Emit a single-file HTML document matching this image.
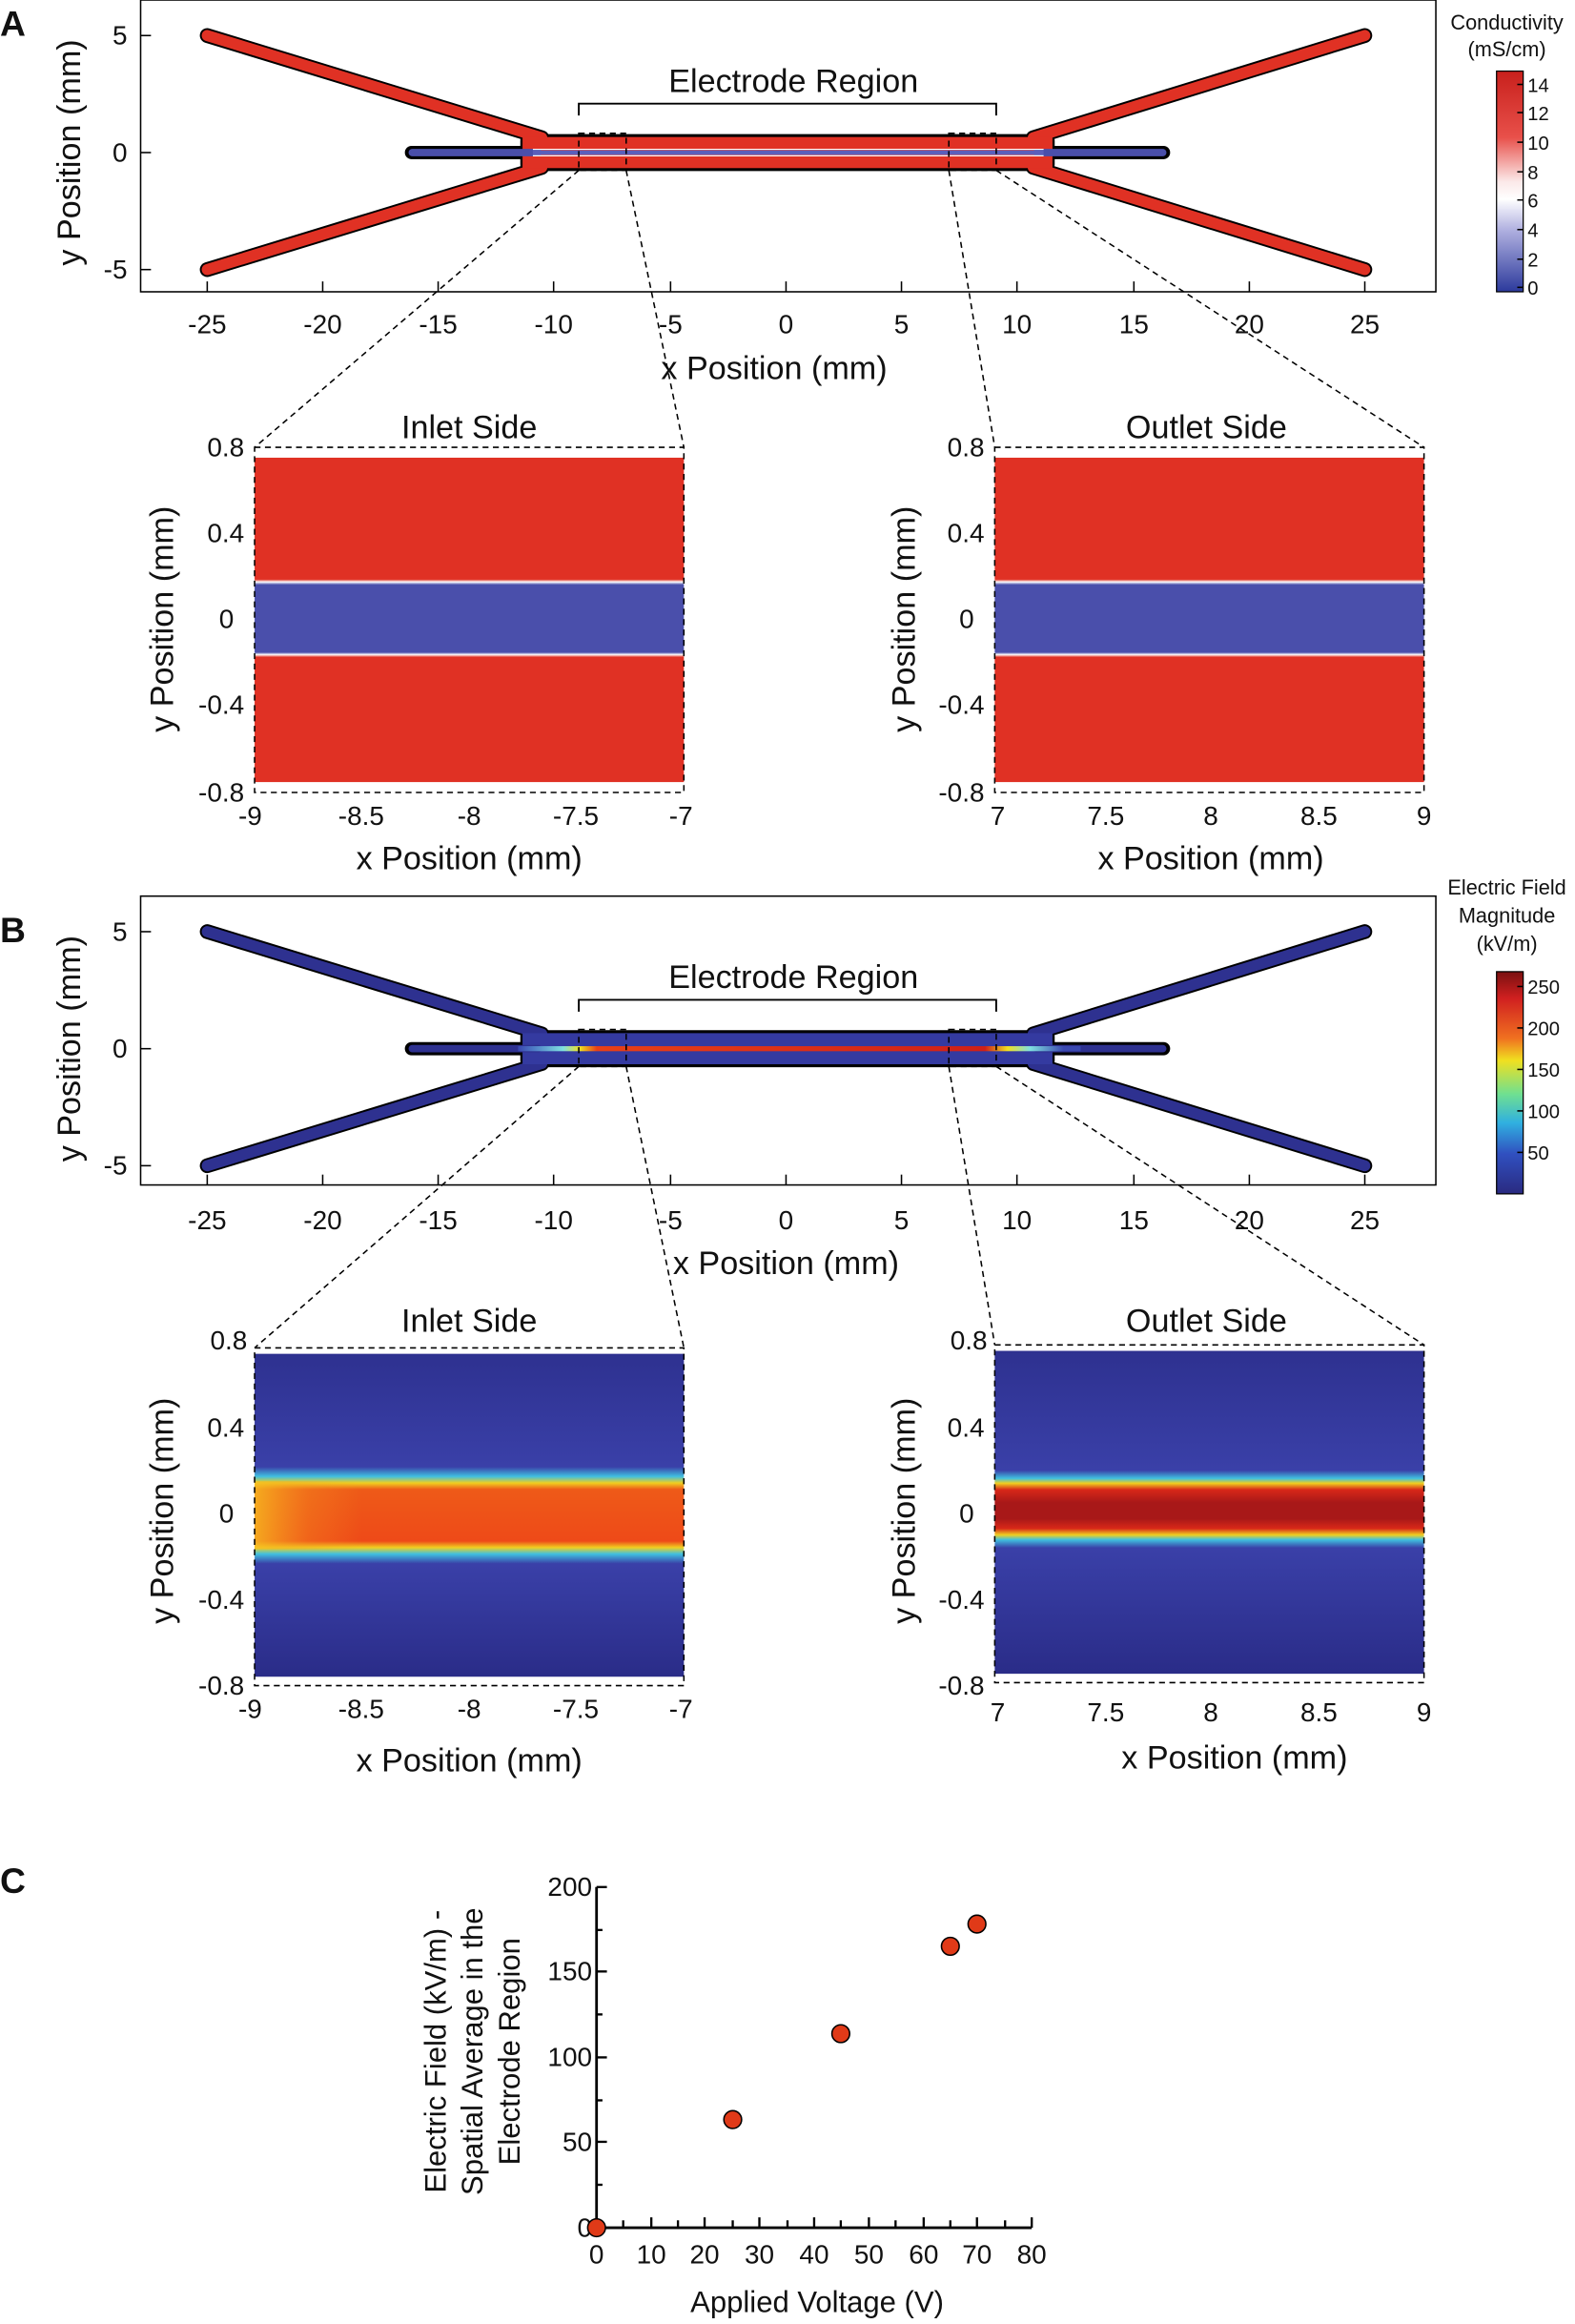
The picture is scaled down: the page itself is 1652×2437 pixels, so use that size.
<!DOCTYPE html>
<html><head><meta charset="utf-8"><style>
html,body{margin:0;padding:0;background:#fff}
svg{display:block}
text{font-family:"Liberation Sans",sans-serif;fill:#111}
</style></head><body>
<svg width="1652" height="2437" viewBox="0 0 1064 1569" preserveAspectRatio="none" xmlns="http://www.w3.org/2000/svg">
<defs>
<linearGradient id="cbA" x1="0" y1="0" x2="0" y2="1">
<stop offset="0" stop-color="#c8201c"/><stop offset="0.3" stop-color="#e8504a"/><stop offset="0.5" stop-color="#fbe8e8"/><stop offset="0.58" stop-color="#ffffff"/><stop offset="0.72" stop-color="#b0b0e0"/><stop offset="1" stop-color="#2c3a9c"/></linearGradient>
<linearGradient id="cbB" x1="0" y1="0" x2="0" y2="1">
<stop offset="0" stop-color="#7a1010"/><stop offset="0.12" stop-color="#d02020"/><stop offset="0.3" stop-color="#f07020"/><stop offset="0.4" stop-color="#f0e020"/><stop offset="0.55" stop-color="#70e090"/><stop offset="0.68" stop-color="#30b0e0"/><stop offset="0.82" stop-color="#3050c0"/><stop offset="1" stop-color="#2a2a80"/></linearGradient>
<linearGradient id="insA" x1="0" y1="0" x2="0" y2="1">
<stop offset="0" stop-color="#e03124"/><stop offset="0.375" stop-color="#e03124"/><stop offset="0.383" stop-color="#ffffff"/><stop offset="0.392" stop-color="#4a4fab"/><stop offset="0.6" stop-color="#4a4fab"/><stop offset="0.607" stop-color="#ffffff"/><stop offset="0.615" stop-color="#e03124"/><stop offset="1" stop-color="#e03124"/></linearGradient>
<linearGradient id="insBi" x1="0" y1="0" x2="0" y2="1">
<stop offset="0" stop-color="#2e3190"/><stop offset="0.35" stop-color="#3a40a8"/><stop offset="0.38" stop-color="#40c0e0"/><stop offset="0.4" stop-color="#f0d020"/><stop offset="0.42" stop-color="#ee5a18"/><stop offset="0.58" stop-color="#ee4a18"/><stop offset="0.6" stop-color="#f0d020"/><stop offset="0.62" stop-color="#40c0e0"/><stop offset="0.65" stop-color="#3a40a8"/><stop offset="1" stop-color="#2a2c88"/></linearGradient>
<linearGradient id="insBiX" x1="0" y1="0" x2="1" y2="0">
<stop offset="0" stop-color="#f7c020" stop-opacity="0.8"/><stop offset="0.25" stop-color="#f7a020" stop-opacity="0.3"/><stop offset="0.5" stop-color="#f7a020" stop-opacity="0"/></linearGradient>
<linearGradient id="insBo" x1="0" y1="0" x2="0" y2="1">
<stop offset="0" stop-color="#2e3190"/><stop offset="0.37" stop-color="#3a40a8"/><stop offset="0.395" stop-color="#40c0e0"/><stop offset="0.41" stop-color="#f0d020"/><stop offset="0.43" stop-color="#d82818"/><stop offset="0.47" stop-color="#a81818"/><stop offset="0.52" stop-color="#a81818"/><stop offset="0.55" stop-color="#d82818"/><stop offset="0.57" stop-color="#f0d020"/><stop offset="0.585" stop-color="#40c0e0"/><stop offset="0.61" stop-color="#3a40a8"/><stop offset="1" stop-color="#2a2c88"/></linearGradient>
<linearGradient id="strB" x1="0" y1="0" x2="1" y2="0">
<stop offset="0" stop-color="#3a48b0"/><stop offset="0.03" stop-color="#5080c8"/><stop offset="0.08" stop-color="#80e0e0"/><stop offset="0.11" stop-color="#f0e020"/><stop offset="0.14" stop-color="#e84018"/><stop offset="0.83" stop-color="#d02018"/><stop offset="0.87" stop-color="#f0e020"/><stop offset="0.91" stop-color="#80e0e0"/><stop offset="0.97" stop-color="#3a48b0"/><stop offset="1" stop-color="#3a48b0"/></linearGradient>
</defs>

<!-- ================= PANEL A ================= -->
<text x="0" y="24" font-size="24" font-weight="bold">A</text>
<g id="topA">
<rect x="95" y="0" width="875" height="197" fill="none" stroke="#000" stroke-width="1"/>
<g stroke="#000" fill="none">
<polyline points="140,24 366,93" stroke-width="10" stroke-linecap="round"/>
<polyline points="140,182 366,113" stroke-width="10" stroke-linecap="round"/>
<polyline points="922,24 698,93" stroke-width="10" stroke-linecap="round"/>
<polyline points="922,182 698,113" stroke-width="10" stroke-linecap="round"/>
<rect x="352" y="91" width="360" height="24" rx="4" fill="#000"/>
<rect x="274" y="99" width="516" height="8" rx="4" fill="#000"/>
</g>
<g stroke="#e03124" fill="none">
<polyline points="140,24 366,93" stroke-width="7.5" stroke-linecap="round"/>
<polyline points="140,182 366,113" stroke-width="7.5" stroke-linecap="round"/>
<polyline points="922,24 698,93" stroke-width="7.5" stroke-linecap="round"/>
<polyline points="922,182 698,113" stroke-width="7.5" stroke-linecap="round"/>
</g>
<rect x="353" y="92.5" width="358" height="21" fill="#e03124"/>
<rect x="276" y="100.5" width="90" height="5" rx="2.5" fill="#4a4fab"/>
<rect x="698" y="100.5" width="90" height="5" rx="2.5" fill="#4a4fab"/>
<rect x="360" y="101.5" width="345" height="3" fill="#5a5fbb"/>
<line x1="360" y1="100.8" x2="705" y2="100.8" stroke="#fff" stroke-width="0.8"/>
<line x1="360" y1="105.2" x2="705" y2="105.2" stroke="#fff" stroke-width="0.8"/>
</g>
<g stroke="#000" stroke-width="1">
<line x1="140" y1="197" x2="140" y2="190"/><line x1="218" y1="197" x2="218" y2="190"/><line x1="296" y1="197" x2="296" y2="190"/><line x1="374" y1="197" x2="374" y2="190"/><line x1="453" y1="197" x2="453" y2="190"/><line x1="531" y1="197" x2="531" y2="190"/><line x1="609" y1="197" x2="609" y2="190"/><line x1="687" y1="197" x2="687" y2="190"/><line x1="766" y1="197" x2="766" y2="190"/><line x1="844" y1="197" x2="844" y2="190"/><line x1="922" y1="197" x2="922" y2="190"/>
<line x1="95" y1="24" x2="102" y2="24"/><line x1="95" y1="103" x2="102" y2="103"/><line x1="95" y1="182" x2="102" y2="182"/>
</g>
<g font-size="18" text-anchor="middle">
<text x="140" y="225">-25</text><text x="218" y="225">-20</text><text x="296" y="225">-15</text><text x="374" y="225">-10</text><text x="453" y="225">-5</text><text x="531" y="225">0</text><text x="609" y="225">5</text><text x="687" y="225">10</text><text x="766" y="225">15</text><text x="844" y="225">20</text><text x="922" y="225">25</text>
</g>
<g font-size="18" text-anchor="end"><text x="86" y="30">5</text><text x="86" y="109">0</text><text x="86" y="188">-5</text></g>
<text x="523" y="256" font-size="22" text-anchor="middle">x Position (mm)</text>
<text transform="translate(54,103) rotate(-90)" font-size="22" text-anchor="middle">y Position (mm)</text>
<polyline points="391,78 391,70 673,70 673,78" fill="none" stroke="#000" stroke-width="1.2"/>
<text x="536" y="62" font-size="22" text-anchor="middle">Electrode Region</text>
<g fill="none" stroke="#000" stroke-width="1" stroke-dasharray="4,3">
<rect x="391" y="90" width="32" height="25"/><rect x="641" y="90" width="32" height="25"/>
<line x1="391" y1="115" x2="172" y2="302"/><line x1="423" y1="115" x2="462" y2="302"/>
<line x1="641" y1="115" x2="672" y2="302"/><line x1="673" y1="115" x2="962" y2="302"/>
</g>
<text x="1018" y="20" font-size="14" text-anchor="middle">Conductivity</text>
<text x="1018" y="38" font-size="14" text-anchor="middle">(mS/cm)</text>
<rect x="1011" y="48" width="18" height="149" fill="url(#cbA)" stroke="#000" stroke-width="0.8"/>
<g stroke="#000"><line x1="1025" y1="57" x2="1029" y2="57"/><line x1="1025" y1="76" x2="1029" y2="76"/><line x1="1025" y1="96" x2="1029" y2="96"/><line x1="1025" y1="116" x2="1029" y2="116"/><line x1="1025" y1="135" x2="1029" y2="135"/><line x1="1025" y1="155" x2="1029" y2="155"/><line x1="1025" y1="175" x2="1029" y2="175"/><line x1="1025" y1="194" x2="1029" y2="194"/></g>
<g font-size="13"><text x="1032" y="62">14</text><text x="1032" y="81">12</text><text x="1032" y="101">10</text><text x="1032" y="121">8</text><text x="1032" y="140">6</text><text x="1032" y="160">4</text><text x="1032" y="180">2</text><text x="1032" y="199">0</text></g>

<rect x="172" y="309" width="290" height="219" fill="url(#insA)"/>
<rect x="172" y="302" width="290" height="233" fill="none" stroke="#000" stroke-dasharray="4,3"/>
<rect x="672" y="309" width="290" height="219" fill="url(#insA)"/>
<rect x="672" y="302" width="290" height="233" fill="none" stroke="#000" stroke-dasharray="4,3"/>
<g font-size="22" text-anchor="middle"><text x="317" y="296">Inlet Side</text><text x="815" y="296">Outlet Side</text>
<text x="317" y="587">x Position (mm)</text><text x="818" y="587">x Position (mm)</text>
<text transform="translate(117,418) rotate(-90)">y Position (mm)</text>
<text transform="translate(618,418) rotate(-90)">y Position (mm)</text></g>
<g font-size="18" text-anchor="end">
<text x="165" y="308">0.8</text><text x="165" y="366">0.4</text><text x="158" y="424">0</text><text x="165" y="482">-0.4</text><text x="165" y="541">-0.8</text>
<text x="665" y="308">0.8</text><text x="665" y="366">0.4</text><text x="658" y="424">0</text><text x="665" y="482">-0.4</text><text x="665" y="541">-0.8</text></g>
<g font-size="18" text-anchor="middle">
<text x="169" y="557">-9</text><text x="244" y="557">-8.5</text><text x="317" y="557">-8</text><text x="389" y="557">-7.5</text><text x="460" y="557">-7</text>
<text x="674" y="557">7</text><text x="747" y="557">7.5</text><text x="818" y="557">8</text><text x="891" y="557">8.5</text><text x="962" y="557">9</text></g>

<!-- ================= PANEL B ================= -->
<text x="0" y="636" font-size="24" font-weight="bold">B</text>
<g transform="translate(0,605)">
<rect x="95" y="0" width="875" height="195" fill="none" stroke="#000" stroke-width="1"/>
<g stroke="#000" fill="none">
<polyline points="140,24 366,93" stroke-width="10" stroke-linecap="round"/>
<polyline points="140,182 366,113" stroke-width="10" stroke-linecap="round"/>
<polyline points="922,24 698,93" stroke-width="10" stroke-linecap="round"/>
<polyline points="922,182 698,113" stroke-width="10" stroke-linecap="round"/>
<rect x="352" y="91" width="360" height="24" rx="4" fill="#000"/>
<rect x="274" y="99" width="516" height="8" rx="4" fill="#000"/>
</g>
<g stroke="#2e3190" fill="none">
<polyline points="140,24 366,93" stroke-width="7.5" stroke-linecap="round"/>
<polyline points="140,182 366,113" stroke-width="7.5" stroke-linecap="round"/>
<polyline points="922,24 698,93" stroke-width="7.5" stroke-linecap="round"/>
<polyline points="922,182 698,113" stroke-width="7.5" stroke-linecap="round"/>
</g>
<rect x="353" y="92.5" width="358" height="21" fill="#343aa0"/>
<rect x="276" y="100.5" width="90" height="5" rx="2.5" fill="#2e3190"/>
<rect x="698" y="100.5" width="90" height="5" rx="2.5" fill="#2e3190"/>
<rect x="350" y="101.3" width="380" height="3.4" fill="url(#strB)"/>
<g stroke="#000" stroke-width="1">
<line x1="140" y1="195" x2="140" y2="188"/><line x1="218" y1="195" x2="218" y2="188"/><line x1="296" y1="195" x2="296" y2="188"/><line x1="374" y1="195" x2="374" y2="188"/><line x1="453" y1="195" x2="453" y2="188"/><line x1="531" y1="195" x2="531" y2="188"/><line x1="609" y1="195" x2="609" y2="188"/><line x1="687" y1="195" x2="687" y2="188"/><line x1="766" y1="195" x2="766" y2="188"/><line x1="844" y1="195" x2="844" y2="188"/><line x1="922" y1="195" x2="922" y2="188"/>
<line x1="95" y1="24" x2="102" y2="24"/><line x1="95" y1="103" x2="102" y2="103"/><line x1="95" y1="182" x2="102" y2="182"/>
</g>
<g font-size="18" text-anchor="middle">
<text x="140" y="225">-25</text><text x="218" y="225">-20</text><text x="296" y="225">-15</text><text x="374" y="225">-10</text><text x="453" y="225">-5</text><text x="531" y="225">0</text><text x="609" y="225">5</text><text x="687" y="225">10</text><text x="766" y="225">15</text><text x="844" y="225">20</text><text x="922" y="225">25</text>
</g>
<g font-size="18" text-anchor="end"><text x="86" y="30">5</text><text x="86" y="109">0</text><text x="86" y="188">-5</text></g>
<text x="531" y="255" font-size="22" text-anchor="middle">x Position (mm)</text>
<text transform="translate(54,103) rotate(-90)" font-size="22" text-anchor="middle">y Position (mm)</text>
<polyline points="391,78 391,70 673,70 673,78" fill="none" stroke="#000" stroke-width="1.2"/>
<text x="536" y="62" font-size="22" text-anchor="middle">Electrode Region</text>
<g fill="none" stroke="#000" stroke-width="1" stroke-dasharray="4,3">
<rect x="391" y="90" width="32" height="25"/><rect x="641" y="90" width="32" height="25"/>
<line x1="391" y1="115" x2="172" y2="305"/><line x1="423" y1="115" x2="462" y2="305"/>
<line x1="641" y1="115" x2="672" y2="303"/><line x1="673" y1="115" x2="962" y2="303"/>
</g>
</g>
<text x="1018" y="604" font-size="14" text-anchor="middle">Electric Field</text>
<text x="1018" y="623" font-size="14" text-anchor="middle">Magnitude</text>
<text x="1018" y="642" font-size="14" text-anchor="middle">(kV/m)</text>
<rect x="1011" y="656" width="18" height="150" fill="url(#cbB)" stroke="#000" stroke-width="0.8"/>
<g stroke="#000"><line x1="1025" y1="666" x2="1029" y2="666"/><line x1="1025" y1="694" x2="1029" y2="694"/><line x1="1025" y1="722" x2="1029" y2="722"/><line x1="1025" y1="750" x2="1029" y2="750"/><line x1="1025" y1="778" x2="1029" y2="778"/></g>
<g font-size="13"><text x="1032" y="671">250</text><text x="1032" y="699">200</text><text x="1032" y="727">150</text><text x="1032" y="755">100</text><text x="1032" y="783">50</text></g>

<rect x="172" y="914" width="290" height="218" fill="url(#insBi)"/>
<rect x="172" y="1000" width="145" height="46" fill="url(#insBiX)"/>
<rect x="172" y="910" width="290" height="228" fill="none" stroke="#000" stroke-dasharray="4,3"/>
<rect x="672" y="912" width="290" height="218" fill="url(#insBo)"/>
<rect x="672" y="908" width="290" height="228" fill="none" stroke="#000" stroke-dasharray="4,3"/>
<g font-size="22" text-anchor="middle"><text x="317" y="899">Inlet Side</text><text x="815" y="899">Outlet Side</text>
<text x="317" y="1196">x Position (mm)</text><text x="834" y="1194">x Position (mm)</text>
<text transform="translate(117,1020) rotate(-90)">y Position (mm)</text>
<text transform="translate(618,1020) rotate(-90)">y Position (mm)</text></g>
<g font-size="18" text-anchor="end">
<text x="167" y="911">0.8</text><text x="165" y="970">0.4</text><text x="158" y="1028">0</text><text x="165" y="1086">-0.4</text><text x="165" y="1144">-0.8</text>
<text x="667" y="911">0.8</text><text x="665" y="970">0.4</text><text x="658" y="1028">0</text><text x="665" y="1086">-0.4</text><text x="665" y="1144">-0.8</text></g>
<g font-size="18" text-anchor="middle">
<text x="169" y="1160">-9</text><text x="244" y="1160">-8.5</text><text x="317" y="1160">-8</text><text x="389" y="1160">-7.5</text><text x="460" y="1160">-7</text>
<text x="674" y="1162">7</text><text x="747" y="1162">7.5</text><text x="818" y="1162">8</text><text x="891" y="1162">8.5</text><text x="962" y="1162">9</text></g>

<!-- ================= PANEL C ================= -->
<text x="0" y="1278" font-size="24" font-weight="bold">C</text>
<g stroke="#000" stroke-width="1.8" fill="none">
<polyline points="403,1274 403,1504 697,1504"/>
</g>
<g stroke="#000" stroke-width="1.5">
<line x1="403" y1="1274" x2="410" y2="1274"/><line x1="403" y1="1331" x2="410" y2="1331"/><line x1="403" y1="1389" x2="410" y2="1389"/><line x1="403" y1="1446" x2="410" y2="1446"/>
<line x1="403" y1="1303" x2="407" y2="1303"/><line x1="403" y1="1360" x2="407" y2="1360"/><line x1="403" y1="1418" x2="407" y2="1418"/><line x1="403" y1="1475" x2="407" y2="1475"/>
<line x1="440" y1="1504" x2="440" y2="1497"/><line x1="476" y1="1504" x2="476" y2="1497"/><line x1="513" y1="1504" x2="513" y2="1497"/><line x1="550" y1="1504" x2="550" y2="1497"/><line x1="587" y1="1504" x2="587" y2="1497"/><line x1="624" y1="1504" x2="624" y2="1497"/><line x1="660" y1="1504" x2="660" y2="1497"/><line x1="697" y1="1504" x2="697" y2="1497"/>
<line x1="421" y1="1504" x2="421" y2="1499"/><line x1="458" y1="1504" x2="458" y2="1499"/><line x1="495" y1="1504" x2="495" y2="1499"/><line x1="532" y1="1504" x2="532" y2="1499"/><line x1="568" y1="1504" x2="568" y2="1499"/><line x1="605" y1="1504" x2="605" y2="1499"/><line x1="642" y1="1504" x2="642" y2="1499"/><line x1="679" y1="1504" x2="679" y2="1499"/>
</g>
<g font-size="18" text-anchor="end"><text x="400" y="1280">200</text><text x="400" y="1337">150</text><text x="400" y="1395">100</text><text x="400" y="1452">50</text><text x="400" y="1510">0</text></g>
<g font-size="18" text-anchor="middle"><text x="403" y="1528">0</text><text x="440" y="1528">10</text><text x="476" y="1528">20</text><text x="513" y="1528">30</text><text x="550" y="1528">40</text><text x="587" y="1528">50</text><text x="624" y="1528">60</text><text x="660" y="1528">70</text><text x="697" y="1528">80</text></g>
<text x="552" y="1561" font-size="20" text-anchor="middle">Applied Voltage (V)</text>
<g font-size="20" text-anchor="middle">
<text transform="translate(301,1385) rotate(-90)">Electric Field (kV/m) -</text>
<text transform="translate(326,1385) rotate(-90)">Spatial Average in the</text>
<text transform="translate(351,1385) rotate(-90)">Electrode Region</text></g>
<g fill="#e03a18" stroke="#000" stroke-width="1">
<circle cx="403" cy="1504" r="6"/><circle cx="495" cy="1431" r="6"/><circle cx="568" cy="1373" r="6"/><circle cx="642" cy="1314" r="6"/><circle cx="660" cy="1299" r="6"/></g>
</svg>
</body></html>
